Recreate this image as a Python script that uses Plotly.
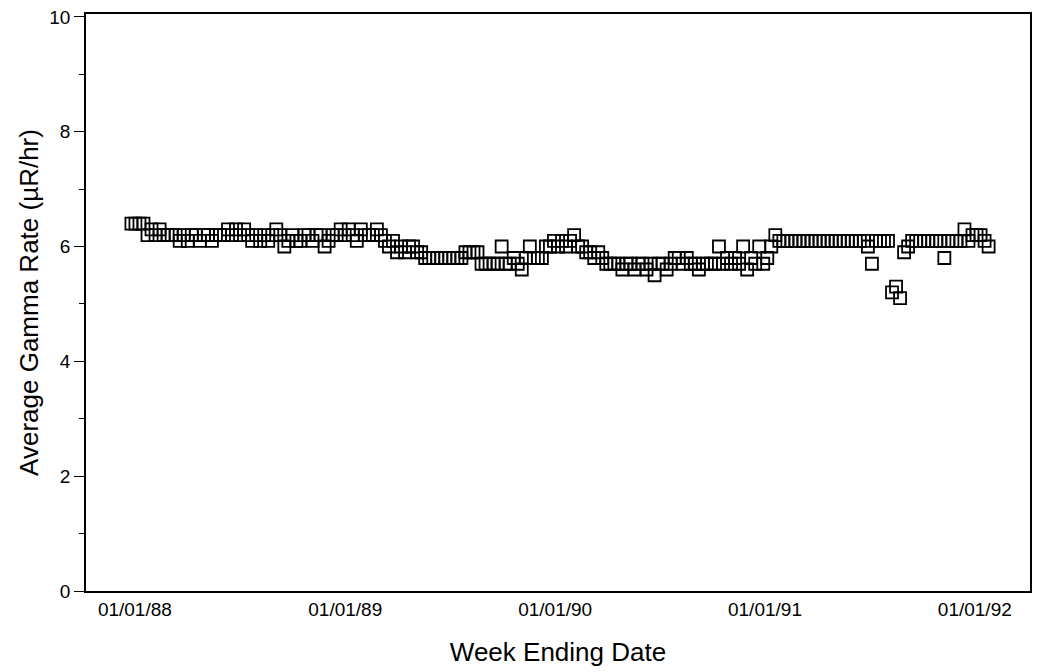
import pandas as pd
import plotly.graph_objects as go

# weekly average gamma rate (uR/hr)
start_date = "1987-12-26"
gamma_rate = [
    6.4, 6.4, 6.4, 6.4, 6.2, 6.3, 6.2, 6.3, 6.2, 6.2,
    6.2, 6.2, 6.1, 6.2, 6.1, 6.2, 6.2, 6.1, 6.2, 6.2,
    6.1, 6.2, 6.2, 6.2, 6.3, 6.2, 6.3, 6.2, 6.3, 6.2,
    6.1, 6.2, 6.1, 6.2, 6.1, 6.2, 6.3, 6.2, 6.0, 6.1,
    6.2, 6.1, 6.1, 6.2, 6.2, 6.1, 6.2, 6.2, 6.0, 6.1,
    6.2, 6.2, 6.3, 6.2, 6.3, 6.2, 6.1, 6.3, 6.2, 6.2,
    6.2, 6.3, 6.2, 6.1, 6.0, 6.1, 5.9, 6.0, 5.9, 6.0,
    6.0, 5.9, 5.9, 5.8, 5.8, 5.8, 5.8, 5.8, 5.8, 5.8,
    5.8, 5.8, 5.8, 5.9, 5.9, 5.9, 5.9, 5.7, 5.7, 5.7,
    5.7, 5.7, 6.0, 5.7, 5.7, 5.8, 5.7, 5.6, 5.8, 6.0,
    5.8, 5.8, 5.8, 6.0, 6.0, 6.1, 6.0, 6.1, 6.0, 6.1,
    6.2, 6.0, 6.0, 5.9, 5.9, 5.8, 5.9, 5.8, 5.7, 5.7,
    5.7, 5.7, 5.6, 5.7, 5.7, 5.6, 5.7, 5.7, 5.6, 5.7,
    5.5, 5.7, 5.7, 5.6, 5.7, 5.8, 5.8, 5.7, 5.8, 5.7,
    5.7, 5.6, 5.7, 5.7, 5.7, 5.7, 6.0, 5.7, 5.8, 5.7,
    5.8, 5.7, 6.0, 5.6, 5.8, 5.7, 6.0, 5.7, 5.8, 6.0,
    6.2, 6.1, 6.1, 6.1, 6.1, 6.1, 6.1, 6.1, 6.1, 6.1,
    6.1, 6.1, 6.1, 6.1, 6.1, 6.1, 6.1, 6.1, 6.1, 6.1,
    6.1, 6.1, 6.1, 6.0, 5.7, 6.1, 6.1, 6.1, 6.1, 5.2,
    5.3, 5.1, 5.9, 6.0, 6.1, 6.1, 6.1, 6.1, 6.1, 6.1,
    6.1, 6.1, 5.8, 6.1, 6.1, 6.1, 6.1, 6.3, 6.1, 6.2,
    6.2, 6.2, 6.1, 6.0,
]
week_ending = pd.date_range(start_date, periods=len(gamma_rate), freq="7D")

tick_dates = ["1988-01-01", "1989-01-01", "1990-01-01", "1991-01-01", "1992-01-01"]
tick_text = ["01/01/88", "01/01/89", "01/01/90", "01/01/91", "01/01/92"]

font_family = "Liberation Sans, Arial, sans-serif"

fig = go.Figure()
fig.add_trace(go.Scatter(
    x=week_ending, y=gamma_rate, mode="markers",
    marker=dict(symbol="square-open", size=12, color="black",
                line=dict(width=1.8, color="black")),
    showlegend=False,
))

# page body has an 8px margin, so the figure is a bit smaller than the window
fig.update_layout(
    width=1035, height=664,
    margin=dict(l=78, r=13, t=6, b=81),
    paper_bgcolor="white", plot_bgcolor="white",
    font=dict(family=font_family, size=19, color="black"),
)
fig.update_xaxes(
    range=["1987-10-08", "1992-04-06"],
    tickmode="array", tickvals=tick_dates, ticktext=tick_text,
    showgrid=False, zeroline=False, automargin=False,
    showline=True, linecolor="black", linewidth=1.8, mirror=True,
    ticks="", tickfont=dict(size=19), ticklabeloverflow="allow",
    title=dict(text="Week Ending Date", font=dict(size=26), standoff=24),
)
fig.update_yaxes(
    range=[0, 10.05],
    tickvals=[0, 2, 4, 6, 8, 10],
    showgrid=False, zeroline=False, automargin=False,
    showline=True, linecolor="black", linewidth=1.6, mirror=True,
    ticks="outside", ticklen=10, tickwidth=1.3, tickcolor="black",
    minor=dict(tickvals=[1, 3, 5, 7, 9], ticks="outside", ticklen=5,
               tickwidth=1, tickcolor="black"),
    tickfont=dict(size=19), ticklabeloverflow="allow",
    title=dict(text="Average Gamma Rate (µR/hr)", font=dict(size=26), standoff=3),
)

fig.write_html("out.html")
